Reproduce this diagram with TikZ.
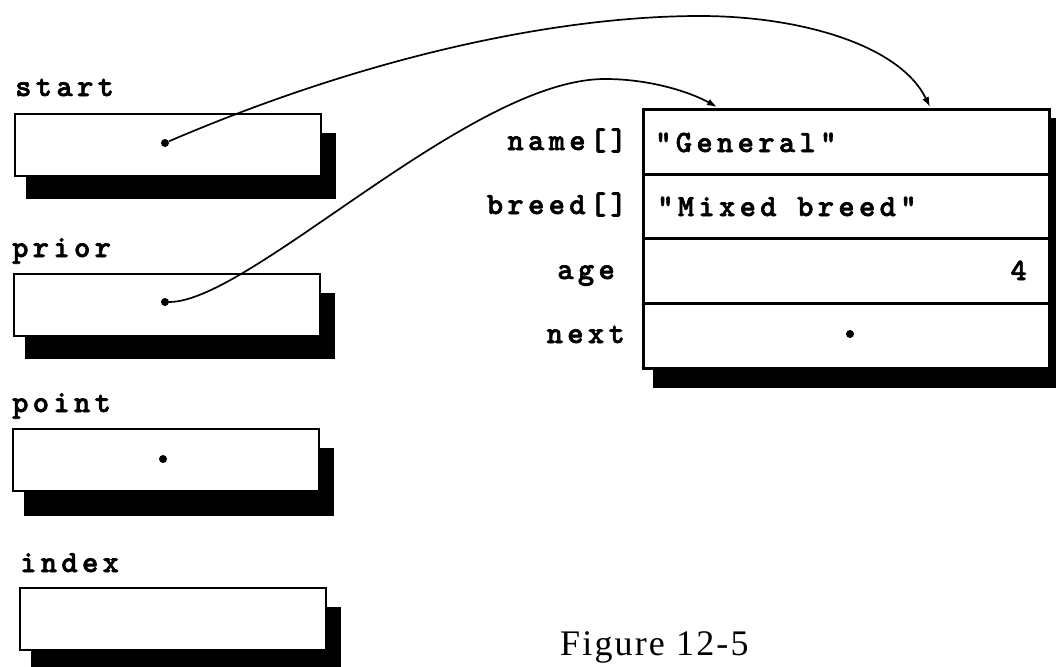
\documentclass[tikz,border=0pt]{standalone}
\usepackage{fontspec}
\setmainfont{Liberation Serif}
\newfontfamily\vmono[LetterSpace=14,FakeBold=2]{lmmonolt10-bold.otf}
\newfontfamily\capfont[LetterSpace=6]{Liberation Serif}
\usetikzlibrary{arrows.meta}
\begin{document}
\begin{tikzpicture}[x=1pt,y=-1pt,
  mono/.style={font=\vmono\fontsize{31}{33}\selectfont, inner sep=0pt},
  varbox/.style={draw=black, line width=2pt, fill=white, minimum width=306pt, minimum height=62pt, anchor=north west, inner sep=0pt},
  rowbox/.style={draw=black, line width=3pt, fill=white, minimum width=406pt, minimum height=65pt, anchor=north west, inner sep=0pt},
  shade/.style={fill=black},
  dot/.style={circle, fill=black, minimum size=8pt, inner sep=0pt},
  link/.style={line width=1.7pt, -{Latex[length=10pt,width=7pt]}},
  caption/.style={font=\capfont\fontsize{36}{38}\selectfont, inner sep=0pt, anchor=base west}]
\useasboundingbox (0,0) rectangle (1056,666);
\clip (0,0) rectangle (1056,666);
\fill[white] (0,0) rectangle (1056,666);

% left variables
\fill[shade] (26,133) rectangle (336,199);
\node[varbox] (bstart) at (14,113) {};
\fill[shade] (25,293) rectangle (335,359);
\node[varbox] (bprior) at (13,273) {};
\fill[shade] (24,448) rectangle (334,516);
\node[varbox] (bpoint) at (12,428) {};
\fill[shade] (31,607) rectangle (341,672);
\node[varbox] (bindex) at (19,587) {};

\node[mono, anchor=base west] (lstart) at (15,96) {start};
\node[mono, anchor=base west] (lprior) at (12,257) {prior};
\node[mono, anchor=base west] (lpoint) at (12,412) {point};
\node[mono, anchor=base west] (lindex) at (20,572) {index};

\node[dot] (dstart) at (165,143) {};
\node[dot] (dprior) at (165,302) {};
\node[dot] (dpoint) at (163,459) {};

% record
\fill[shade] (653,118) rectangle (1060,388);
\node[rowbox] (r1) at (642,108) {};
\node[rowbox] (r2) at (642,173) {};
\node[rowbox] (r3) at (642,237) {};
\node[rowbox] (r4) at (642,302) {};

\node[mono, anchor=base east] (lname) at (627,150) {name[]};
\node[mono, anchor=base east] (lbreed) at (627,214) {breed[]};
\node[mono, anchor=base east] (lage) at (615,279) {age};
\node[mono, anchor=base east] (lnext) at (625,343) {next};

\node[mono, anchor=base west] (vname) at (655,152) {"General"};
\node[mono, anchor=base west] (vbreed) at (657,216) {"Mixed breed"};
\node[mono, anchor=base east] (vage) at (1027,280) {4};
\node[dot] (dnext) at (850,334) {};

% connectors
\coordinate (t1) at (930,107);
\coordinate (t2) at (717,107);
\draw[link] (dstart) .. controls (370,55) and (560,16) .. (700,16) .. controls (800,16) and (900,45) .. (t1);
\draw[link] (dprior) .. controls (250,302) and (470,79) .. (605,79) .. controls (650,79) and (690,92) .. (t2);

\node[caption] (cap) at (560,655) {Figure 12-5};
\end{tikzpicture}
\end{document}
